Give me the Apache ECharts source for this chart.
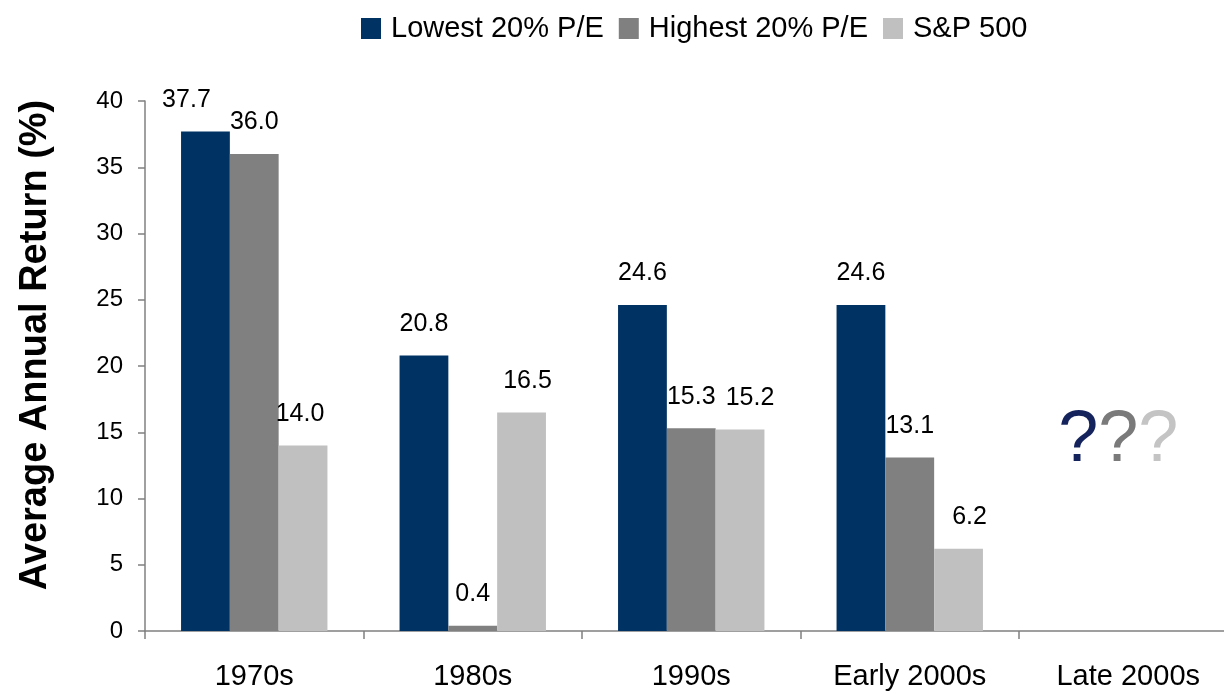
<!DOCTYPE html>
<html>
<head>
<meta charset="utf-8">
<title>Returns by P/E quintile</title>
<script src="https://cdn.jsdelivr.net/npm/echarts@6/dist/echarts.min.js"></script>
<style>
  html, body { margin: 0; padding: 0; background: #fff; }
  #chart { width: 1224px; height: 692px; }
</style>
</head>
<body>
<div id="chart"></div>
<script>
const decades = ['1970s', '1980s', '1990s', 'Early 2000s', 'Late 2000s']
const lowestPE = [37.7, 20.8, 24.6, 24.6, null]
const highestPE = [36.0, 0.4, 15.3, 13.1, null]
const sp500 = [14.0, 16.5, 15.2, 6.2, null]
const seriesNames = ['Lowest 20% P/E', 'Highest 20% P/E', 'S&P 500']
const unknownMark = ['Late 2000s', 14.3]

const colors = ['#003264', '#808080', '#c0c0c0']
const font = 'Arial, "Liberation Sans", sans-serif'

// small horizontal nudges for labels, as placed in the source
const labelNudge = {
  '0-0': -19,
  '2-0': -3, '2-1': 6, '2-2': 10, '2-3': 11,
}

const chart = echarts.init(document.getElementById('chart'), null, { renderer: 'canvas' })

function barSeries(name, values, idx) {
  return {
    name,
    type: 'bar',
    barGap: 0,
    barCategoryGap: '33%',
    itemStyle: { color: colors[idx] },
    data: values.map((v, i) => {
      const dx = labelNudge[idx + '-' + i]
      return dx ? { value: v, label: { offset: [dx, 0] } } : v
    }),
    label: {
      show: true,
      position: 'top',
      distance: 19,
      color: '#000',
      fontFamily: font,
      fontSize: 25,
      formatter: (p) => p.value.toFixed(1),
    },
  }
}

chart.setOption({
  backgroundColor: '#fff',
  animation: false,
  grid: { left: 145, right: -13.5, top: 101, bottom: 61, outerBoundsMode: 'none', containLabel: false },
  legend: {
    left: 356,
    top: 9,
    itemWidth: 20,
    itemHeight: 21,
    itemGap: 15,
    icon: 'rect',
    data: seriesNames,
    textStyle: { color: '#000', fontFamily: font, fontSize: 29, padding: [0, 0, 0, 5] },
  },
  xAxis: {
    type: 'category',
    data: decades,
    axisLine: { lineStyle: { color: '#808080', width: 1.5 } },
    axisTick: { show: true, length: 8, lineStyle: { color: '#808080', width: 1.5 } },
    axisLabel: { color: '#000', fontFamily: font, fontSize: 29, margin: 31, interval: 0 },
  },
  yAxis: {
    type: 'value',
    min: 0,
    max: 40,
    interval: 5,
    name: 'Average Annual Return (%)',
    nameLocation: 'middle',
    nameRotate: 90,
    nameGap: 90,
    nameTextStyle: { color: '#000', fontFamily: font, fontSize: 38, fontWeight: 'bold', padding: [0, 0, 0, 42] },
    axisLine: { show: true, lineStyle: { color: '#808080', width: 1.5 } },
    axisTick: { show: true, length: 7, lineStyle: { color: '#808080', width: 1.5 } },
    axisLabel: { color: '#000', fontFamily: font, fontSize: 24, margin: 22 },
    splitLine: { show: false },
  },
  series: [
    barSeries(seriesNames[0], lowestPE, 0),
    barSeries(seriesNames[1], highestPE, 1),
    barSeries(seriesNames[2], sp500, 2),
    {
      type: 'scatter',
      symbolSize: 0,
      silent: true,
      itemStyle: { opacity: 1 },
      data: [unknownMark],
      label: {
        show: true,
        position: 'inside',
        offset: [-10, 0],
        opacity: 1,
        formatter: '{a|?}{b|?}{c|?}',
        rich: {
          a: { color: '#14235c', fontSize: 72, fontFamily: font },
          b: { color: '#7a7a7a', fontSize: 72, fontFamily: font },
          c: { color: '#c4c4c4', fontSize: 72, fontFamily: font },
        },
      },
    },
  ],
})

window.addEventListener('resize', () => chart.resize())
</script>
</body>
</html>
